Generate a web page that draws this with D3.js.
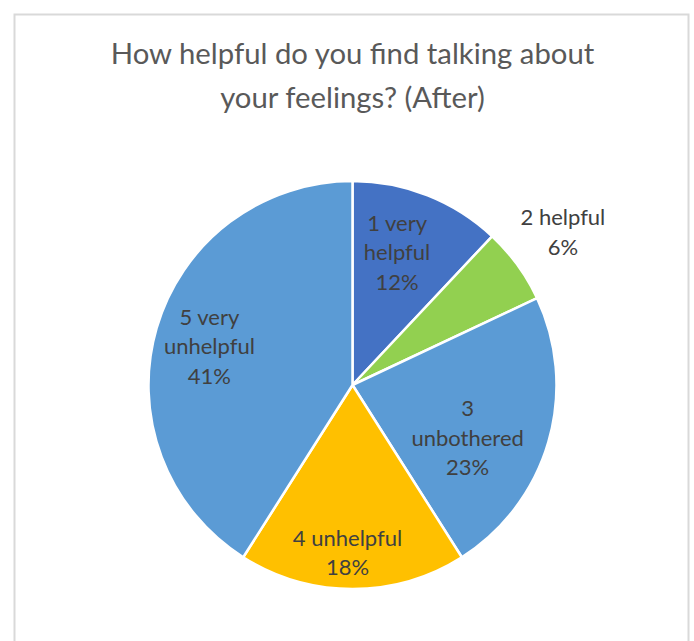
<!DOCTYPE html>
<html>
<head>
<meta charset="utf-8">
<script src="https://cdn.jsdelivr.net/npm/d3@7"></script>
<style>
  html, body { margin: 0; padding: 0; background: #ffffff; }
  svg { display: block; }
  text { font-family: Lato, "Open Sans", sans-serif; }
</style>
</head>
<body>
<svg id="chart" width="694" height="641"></svg>
<script>
// ---- data ----
const categories = ["1 very helpful", "2 helpful", "3 unbothered", "4 unhelpful", "5 very unhelpful"];
const values = [12, 6, 23, 18, 41];
const labelLines = [["1 very", "helpful"], ["2 helpful"], ["3", "unbothered"], ["4 unhelpful"], ["5 very", "unhelpful"]];
const colors = ["#4472C4", "#92D050", "#5B9BD5", "#FFC000", "#5B9BD5"];
const titleLines = ["How helpful do you find talking about", "your feelings? (After)"];

// ---- layout ----
const W = 694, H = 641;
const cx = 352.5, cy = 385, R = 204;
const svg = d3.select("#chart");

// chart border
svg.append("rect")
  .attr("x", 14.5).attr("y", 14.5)
  .attr("width", 674).attr("height", 640)
  .attr("fill", "#ffffff")
  .attr("stroke", "#d9d9d9").attr("stroke-width", 2);

// title
svg.append("g").selectAll("text")
  .data(titleLines).join("text")
  .attr("x", 352.5)
  .attr("y", (d, i) => 64 + i * 44)
  .attr("text-anchor", "middle")
  .attr("font-size", 29.3)
  .attr("fill", "#595959")
  .text(d => d);

// pie
const total = d3.sum(values);
const pie = d3.pie().sort(null).value(d => d)(values);
const arc = d3.arc().innerRadius(0).outerRadius(R);
const g = svg.append("g").attr("transform", `translate(${cx},${cy})`);

g.selectAll("path")
  .data(pie).join("path")
  .attr("d", arc)
  .attr("fill", (d, i) => colors[i])
  .attr("stroke", "#ffffff")
  .attr("stroke-width", 2.5)
  .attr("stroke-linejoin", "round");

// labels
const labelRadius = [0.7, 1.275, 0.7, 0.7, 0.7];
const nudge = [[-8, 0], [0, 0], [-22, 13], [-5, 25], [-6, 1]];
const lineGap = 29.5;

pie.forEach((d, i) => {
  const r = R * labelRadius[i];
  const c = d3.arc().innerRadius(r).outerRadius(r).centroid(d);
  const lines = labelLines[i].concat([Math.round(values[i] / total * 100) + "%"]);
  const x = c[0] + nudge[i][0];
  const y0 = c[1] + nudge[i][1] - (lines.length - 1) * lineGap / 2;
  const t = g.append("text")
    .attr("text-anchor", "middle")
    .attr("font-size", 22)
    .attr("fill", "#404040");
  lines.forEach((ln, j) => {
    t.append("tspan")
      .attr("x", x)
      .attr("y", y0 + j * lineGap)
      .attr("dy", "0.36em")
      .text(ln);
  });
});
</script>
</body>
</html>
